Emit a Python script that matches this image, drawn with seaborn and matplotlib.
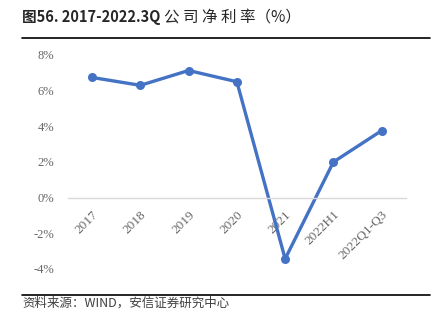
import matplotlib
matplotlib.use("Agg")
import matplotlib.pyplot as plt
import seaborn as sns
import pandas as pd
from matplotlib.lines import Line2D

categories = ["2017", "2018", "2019", "2020", "2021", "2022H1", "2022Q1-Q3"]
net_margin = [6.74, 6.30, 7.13, 6.50, -3.43, 2.00, 3.76]
yticks = [-4, -2, 0, 2, 4, 6, 8]

sns.set_theme(style="white")
plt.rcParams['font.family'] = ['Noto Sans CJK SC', 'DejaVu Sans']

df = pd.DataFrame({"cat": categories, "val": net_margin})

fig = plt.figure(figsize=(4.44, 3.22), dpi=100)
ax = fig.add_axes([0.153, 0.1646, 0.761, 0.6646])

sns.lineplot(data=df, x="cat", y="val", ax=ax, color="#4472C4", linewidth=2.4,
             marker="o", markersize=6.5, markeredgewidth=0, sort=False)

for s in ["top", "right", "left"]:
    ax.spines[s].set_visible(False)
ax.spines["bottom"].set_position(("data", 0))
ax.spines["bottom"].set_color("#D9D9D9")
ax.spines["bottom"].set_linewidth(1.0)

ax.set_xlim(-0.5, len(categories) - 0.5)
ax.set_ylim(-4, 8)
ax.set_yticks(yticks)
ax.set_yticklabels([f"{v}%" for v in yticks], family="Liberation Serif",
                   fontsize=9, color="#666666")
ax.set_xticks(range(len(categories)))
ax.set_xticklabels(categories, rotation=45, ha="right", rotation_mode="anchor",
                   family="Liberation Serif", fontsize=9.5, color="#666666")
ax.set_xlabel("")
ax.set_ylabel("")
ax.tick_params(axis="y", length=0, pad=10)
ax.tick_params(axis="x", length=0, pad=8)
ax.grid(False)
ax.set_facecolor("none")

t1 = fig.text(22 / 444, 1 - 17 / 322, "图56. 2017-2022.3Q", fontsize=10.5, fontweight="bold",
              color="#262626", va="center", ha="left")
fig.canvas.draw()
bb = t1.get_window_extent()
fig.text((bb.x1 + 4) / 444, 1 - 17 / 322, "公 司 净 利 率（%）", fontsize=11.2,
         color="#262626", va="center", ha="left")
fig.add_artist(Line2D([22 / 444, 430 / 444], [1 - 38 / 322] * 2, color="black", linewidth=1.2))
fig.add_artist(Line2D([22 / 444, 430 / 444], [1 - 295 / 322] * 2, color="black", linewidth=1.2))
fig.text(22 / 444, 1 - 303 / 322, "资料来源：WIND，安信证券研究中心", fontsize=9,
         style="italic", color="#404040", va="center", ha="left")

fig.savefig("out.png", dpi=100)
